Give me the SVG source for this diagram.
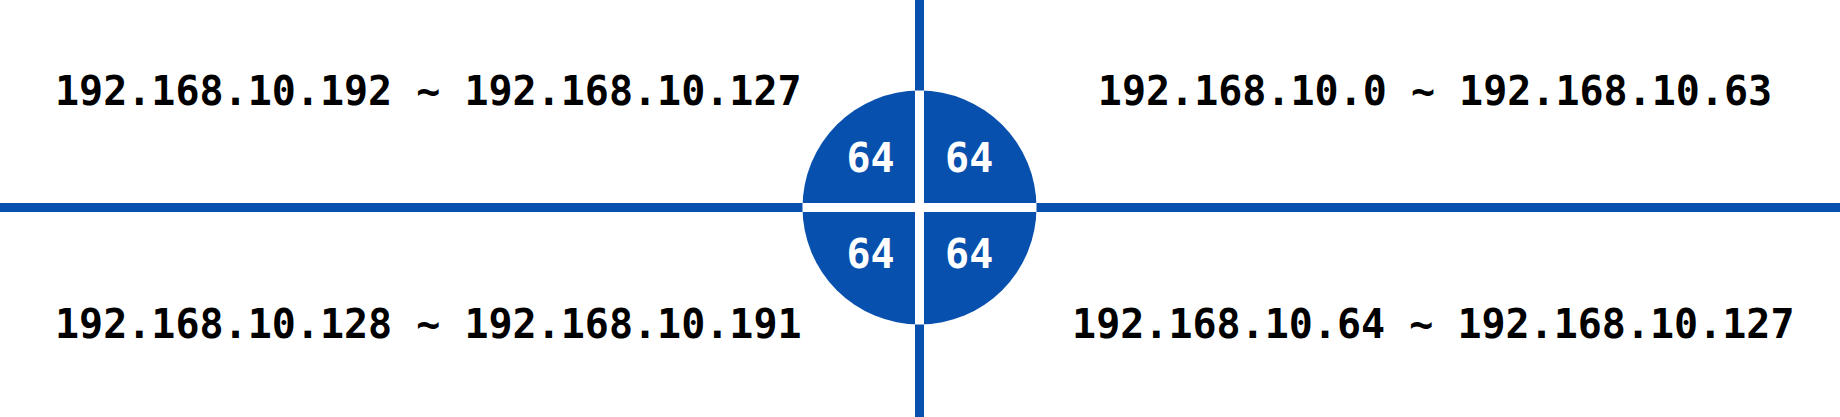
<svg xmlns="http://www.w3.org/2000/svg" width="1840" height="417" viewBox="0 0 1840 417">
<style>
.ln{stroke:#0850AD;stroke-width:9;fill:none}
.gap{stroke:#ffffff;stroke-width:9;fill:none}
.lbl{font-family:"DejaVu Sans Mono",monospace;font-weight:bold;font-size:40px;fill:#000;text-anchor:middle}
.num{font-family:"DejaVu Sans Mono",monospace;font-weight:bold;font-size:40px;fill:#fff;text-anchor:middle}
</style>
<rect width="1840" height="417" fill="#fff"/>
<g id="connectors">
<line class="ln" x1="0" y1="207.5" x2="1840" y2="207.5"/>
<line class="ln" x1="919.5" y1="0" x2="919.5" y2="417"/>
</g>
<g id="circle">
<circle cx="919.5" cy="207.5" r="117" fill="#0850AD"/>
<line class="gap" x1="802.5" y1="207.5" x2="1036.5" y2="207.5"/>
<line class="gap" x1="919.5" y1="90.5" x2="919.5" y2="324.5"/>
<text class="num" x="870.5" y="171.7">64</text>
<text class="num" x="969.2" y="171.7">64</text>
<text class="num" x="870.5" y="268.3">64</text>
<text class="num" x="969.2" y="268.3">64</text>
</g>
<g id="label-tl"><text class="lbl" x="428.3" y="105">192.168.10.192 ~ 192.168.10.127</text></g>
<g id="label-tr"><text class="lbl" x="1435" y="105">192.168.10.0 ~ 192.168.10.63</text></g>
<g id="label-bl"><text class="lbl" x="428.3" y="338.3">192.168.10.128 ~ 192.168.10.191</text></g>
<g id="label-br"><text class="lbl" x="1433.3" y="338.3">192.168.10.64 ~ 192.168.10.127</text></g>
</svg>
